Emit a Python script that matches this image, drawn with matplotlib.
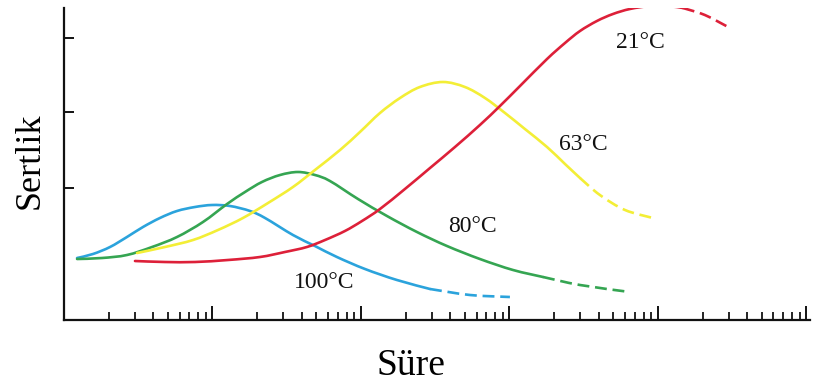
import numpy as np
import matplotlib
matplotlib.use("Agg")
import matplotlib.pyplot as plt
from matplotlib.path import Path
from matplotlib.patches import PathPatch
from matplotlib.ticker import LogLocator, NullFormatter, NullLocator

# time read as log10 of duration (arbitrary units), hardness in arbitrary units
t100 = [0.088, 0.195, 0.310, 0.424, 0.532, 0.646, 0.761, 0.882, 0.997, 1.118, 1.253, 1.354, 1.542,
        1.690, 1.838, 2.027, 2.242, 2.465, 2.734, 3.003]
h100 = [62, 66, 73, 83, 93, 102, 109, 113, 115, 114, 109, 102, 85, 74, 63, 51, 40, 31, 25, 23]

t80 = [0.088, 0.256, 0.424, 0.593, 0.761, 0.936, 1.098, 1.219, 1.333, 1.455, 1.576, 1.690, 1.791,
       1.980, 2.175, 2.377, 2.579, 2.801, 3.024, 3.226, 3.475, 3.811]
h80 = [61, 62, 65, 73, 83, 98, 116, 128, 138, 145, 148, 145, 139, 121, 104, 88, 74, 61, 50, 43, 35, 28]

t63 = [0.492, 0.680, 0.869, 1.037, 1.205, 1.374, 1.542, 1.690, 1.859, 1.993, 2.128, 2.263, 2.397,
       2.552, 2.700, 2.835, 2.970, 3.104, 3.253, 3.374, 3.475, 3.609, 3.778, 3.966]
h63 = [67, 73, 80, 90, 102, 117, 133, 150, 170, 188, 207, 222, 233, 238, 233, 222, 207, 191, 173,
       156, 142, 125, 110, 102]

t21 = [0.478, 0.680, 0.882, 1.104, 1.320, 1.488, 1.636, 1.758, 1.892, 2.007, 2.128, 2.296, 2.465,
       2.633, 2.801, 2.936, 3.071, 3.253, 3.374, 3.475, 3.589, 3.697, 3.811, 3.946, 4.067, 4.168,
       4.316, 4.485]
h21 = [59, 58, 58, 60, 63, 68, 73, 80, 89, 99, 111, 131, 152, 173, 195, 214, 234, 261, 277, 289,
       299, 306, 311, 314, 314, 312, 305, 292]

labels = ["100°C", "80°C", "63°C", "21°C"]
# log-time where each curve turns into a dashed line
dash_from = [2.465, 3.226, 3.475, 4.168]

curves = [(t100, h100), (t80, h80), (t63, h63), (t21, h21)]
colors = ["#2ba3dc", "#35a552", "#f3ee36", "#dd2039"]
label_pos = [(10**1.75, 37), (10**2.75, 94), (10**3.5, 175), (10**3.88, 277)]


def smooth_path(t, h):
    # Catmull-Rom through the read points as cubic Bezier segments (log-time space)
    p = np.column_stack([t, h]).astype(float)
    ext = np.vstack([p[0], p, p[-1]])
    verts = [p[0]]
    codes = [Path.MOVETO]
    for i in range(1, len(ext) - 2):
        p0, p1, p2, p3 = ext[i - 1], ext[i], ext[i + 1], ext[i + 2]
        verts += [p1 + (p2 - p0) / 6, p2 - (p3 - p1) / 6, p2]
        codes += [Path.CURVE4] * 3
    verts = np.array(verts)
    verts[:, 0] = 10**verts[:, 0]
    return Path(verts, codes)


plt.rcParams["font.family"] = ["Liberation Serif", "DejaVu Serif"]

fig = plt.figure(figsize=(8.17, 3.90), dpi=100)
ax = fig.add_axes([64 / 817, 70 / 390, 746 / 817, 312 / 390])

for (t, h), c, d, lab, pos in zip(curves, colors, dash_from, labels, label_pos):
    t = np.array(t)
    h = np.array(h)
    solid = t <= d
    dashed = t >= d
    ax.add_patch(PathPatch(smooth_path(t[solid], h[solid]), fill=False, edgecolor=c, lw=1.9,
                           capstyle="round"))
    ax.add_patch(PathPatch(smooth_path(t[dashed], h[dashed]), fill=False, edgecolor=c, lw=1.9,
                           linestyle=(0, (4.5, 2.2))))
    ax.text(pos[0], pos[1], lab, fontsize=17, ha="center", va="center", color="#111111")

ax.set_xscale("log")
ax.set_xlim(1, 10**5.024)
ax.set_ylim(0, 312)

ax.xaxis.set_major_locator(LogLocator(base=10, numticks=10))
ax.xaxis.set_minor_locator(LogLocator(base=10, subs=np.arange(2, 10), numticks=20))
ax.xaxis.set_major_formatter(NullFormatter())
ax.xaxis.set_minor_formatter(NullFormatter())
ax.set_yticks([132, 208, 282])
ax.yaxis.set_minor_locator(NullLocator())
ax.set_yticklabels([])

ax.tick_params(axis="x", which="major", direction="in", length=10, width=1.3)
ax.tick_params(axis="x", which="minor", direction="in", length=5.5, width=1.2)
ax.tick_params(axis="y", which="major", direction="in", length=7, width=1.3)

for s in ["top", "right"]:
    ax.spines[s].set_visible(False)
for s in ["left", "bottom"]:
    ax.spines[s].set_linewidth(1.6)
    ax.spines[s].set_color("#111111")

fig.text(30 / 817, 1 - 161 / 390, "Sertlik", rotation=90, fontsize=26, ha="center", va="center")
fig.text(411 / 817, 1 - 366 / 390, "Süre", fontsize=27, ha="center", va="center")

fig.savefig("out.png", dpi=100)
